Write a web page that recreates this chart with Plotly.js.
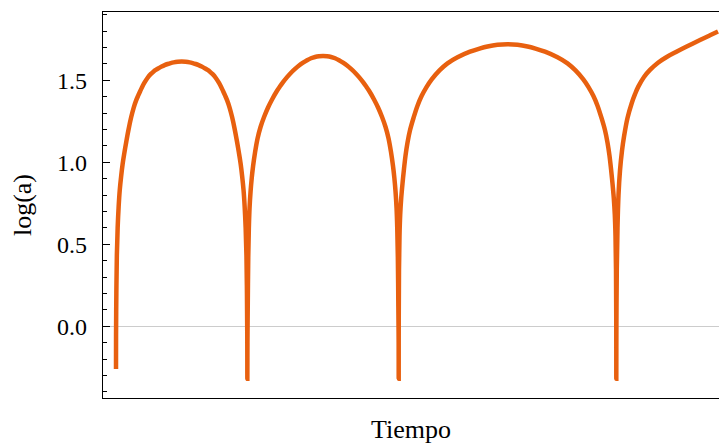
<!DOCTYPE html>
<html>
<head>
<meta charset="utf-8">
<script src="https://cdn.plot.ly/plotly-3.0.1.min.js"></script>
<style>html,body{margin:0;padding:0;background:#fff;}#chart{width:719px;height:444px;}</style>
</head>
<body>
<div id="chart"></div>
<script>
// Tiempo (arbitrary units; the reference shows no x tick labels)
const tiempo = [
  // ciclo 1
  1.300, 1.305, 1.335, 1.385, 1.465, 1.565, 1.675, 1.815, 1.965, 2.145, 2.335, 2.565, 2.815, 3.065, 3.315, 3.515, 3.715, 3.915, 4.115, 4.465, 4.765, 5.065, 5.275, 5.565, 5.865, 6.165, 6.465, 6.765, 7.065, 7.465, 7.865,
  8.265, 8.665, 8.965, 9.265, 9.565, 9.865, 10.165, 10.455, 10.665, 10.965, 11.265, 11.615, 11.815, 12.015, 12.215, 12.415, 12.665, 12.915, 13.165, 13.395, 13.585, 13.765, 13.915, 14.055, 14.165, 14.265, 14.345, 14.395, 14.425, 14.435,
  // ciclo 2
  14.445, 14.475, 14.525, 14.585, 14.655, 14.755, 14.875, 15.005, 15.205, 15.455, 15.755, 16.105, 16.505, 16.905, 17.405, 17.705, 18.005, 18.405, 18.805, 19.205, 19.605, 20.005, 20.405, 20.805, 21.205, 21.605, 22.005,
  22.405, 22.805, 23.205, 23.605, 24.005, 24.405, 24.805, 25.205, 25.605, 26.005, 26.305, 26.605, 27.105, 27.505, 27.905, 28.255, 28.555, 28.805, 29.005, 29.135, 29.255, 29.355, 29.425, 29.485, 29.535, 29.565, 29.570,
  // ciclo 3
  29.575, 29.60, 29.65, 29.72, 29.82, 29.95, 30.10, 30.25, 30.45, 30.70, 31.05, 31.45, 31.87, 32.35, 32.87, 33.65, 34.45, 35.45, 36.70, 37.65, 38.45, 39.45, 40.45,
  41.45, 42.45, 43.25, 44.20, 45.45, 46.45, 47.25, 48.03, 48.55, 49.03, 49.45, 49.85, 50.20, 50.45, 50.65, 50.80, 50.95, 51.08, 51.18, 51.25, 51.30, 51.325, 51.33,
  // ciclo 4
  51.34, 51.38, 51.45, 51.55, 51.70, 51.90, 52.10, 52.45, 52.87, 53.20, 53.53, 54.10, 54.70, 55.50, 56.37, 57.30, 58.37, 59.70, 60.70, 61.50
];
// log(a)
const logA = [
  // ciclo 1
  -0.26, -0.05, 0.20, 0.43, 0.60, 0.73, 0.83, 0.915, 0.99, 1.06, 1.128, 1.203, 1.274, 1.332, 1.377, 1.406, 1.433, 1.459, 1.482, 1.515, 1.537, 1.554, 1.563, 1.5735, 1.5836, 1.592, 1.599, 1.6047, 1.609, 1.6125, 1.614,
  1.6125, 1.609, 1.6047, 1.599, 1.592, 1.5836, 1.5735, 1.563, 1.554, 1.537, 1.515, 1.482, 1.459, 1.433, 1.406, 1.377, 1.332, 1.274, 1.203, 1.128, 1.06, 0.99, 0.915, 0.83, 0.73, 0.60, 0.43, 0.20, -0.05, -0.32,
  // ciclo 2
  -0.10, 0.12, 0.42, 0.60, 0.72, 0.82, 0.905, 0.975, 1.06, 1.145, 1.215, 1.276, 1.334, 1.383, 1.436, 1.463, 1.488, 1.519, 1.546, 1.569, 1.590, 1.607, 1.622, 1.634, 1.642, 1.6465, 1.648,
  1.6465, 1.642, 1.634, 1.622, 1.607, 1.590, 1.569, 1.546, 1.519, 1.488, 1.463, 1.436, 1.383, 1.334, 1.276, 1.215, 1.145, 1.06, 0.975, 0.905, 0.82, 0.72, 0.60, 0.42, 0.12, -0.10, -0.32,
  // ciclo 3
  0.05, 0.35, 0.55, 0.68, 0.78, 0.87, 0.96, 1.04, 1.12, 1.195, 1.27, 1.345, 1.405, 1.458, 1.505, 1.56, 1.603, 1.64, 1.674, 1.693, 1.706, 1.716, 1.719,
  1.716, 1.706, 1.693, 1.674, 1.64, 1.603, 1.56, 1.505, 1.458, 1.405, 1.345, 1.27, 1.195, 1.12, 1.04, 0.96, 0.87, 0.78, 0.68, 0.55, 0.35, 0.05, -0.32,
  // ciclo 4
  0.0, 0.35, 0.60, 0.80, 0.95, 1.07, 1.156, 1.27, 1.36, 1.415, 1.461, 1.52, 1.563, 1.607, 1.642, 1.672, 1.705, 1.745, 1.774, 1.797
];
const yTickVals = [0, 0.5, 1.0, 1.5];
const yTickText = ['0.0', '0.5', '1.0', '1.5'];

const serif = '"Liberation Serif", "DejaVu Serif", serif';

Plotly.newPlot('chart', [{
  x: tiempo, y: logA, type: 'scatter', mode: 'lines',
  line: {color: '#e8600f', width: 4.5, shape: 'spline', smoothing: 1},
  hoverinfo: 'skip'
}], {
  width: 719, height: 444,
  margin: {l: 103, r: 0, t: 12, b: 46},
  paper_bgcolor: '#fff', plot_bgcolor: '#fff',
  showlegend: false,
  font: {family: serif, color: '#000', size: 24},
  xaxis: {
    range: [0, 61.6], showgrid: false, zeroline: false,
    showticklabels: false, ticks: '',
    showline: true, linecolor: '#000', linewidth: 1.2, mirror: true,
    title: {text: 'Tiempo', font: {family: serif, size: 26, color: '#000'}, standoff: 22},
    automargin: false
  },
  yaxis: {
    range: [-0.437, 1.916], showgrid: false,
    zeroline: true, zerolinecolor: '#cccccc', zerolinewidth: 1.5,
    tickvals: yTickVals, ticktext: yTickText,
    ticks: 'inside', ticklen: 7, tickwidth: 1.2, tickcolor: '#000',
    minor: {dtick: 0.1, ticks: 'inside', ticklen: 4, tickwidth: 1, tickcolor: '#000', showgrid: false},
    ticklabelstandoff: 10,
    tickfont: {family: serif, size: 24, color: '#000'},
    showline: true, linecolor: '#000', linewidth: 1.2, mirror: false,
    title: {text: 'log(a)', font: {family: serif, size: 26, color: '#000'}, standoff: 18},
    automargin: false
  }
}, {staticPlot: true, displayModeBar: false});
</script>
</body>
</html>
